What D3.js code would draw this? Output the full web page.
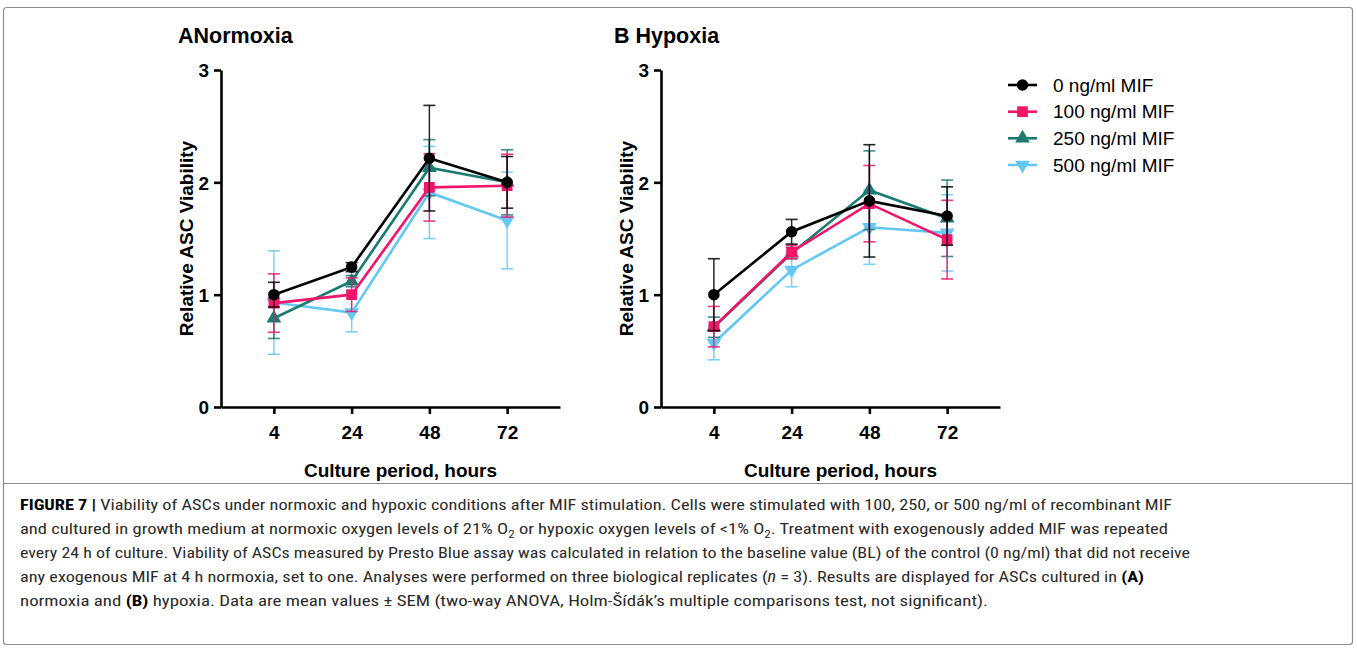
<!DOCTYPE html>
<html><head><meta charset="utf-8">
<script src="https://cdn.jsdelivr.net/npm/d3@7"></script>
<style>body{margin:0;background:#fff}svg{display:block}</style>
</head><body><svg id="c" width="1357" height="652"></svg>
<script>
// ---------- data ----------
const categories = ["4", "24", "48", "72"];
const yTicks = [0, 1, 2, 3];
const seriesNames = ["0 ng/ml MIF", "100 ng/ml MIF", "250 ng/ml MIF", "500 ng/ml MIF"];

const normoxiaMean0   = [1.00, 1.245, 2.215, 2.00];
const normoxiaSem0    = [0.11, 0.04, 0.47, 0.23];
const normoxiaMean100 = [0.925, 1.00, 1.955, 1.97];
const normoxiaSem100  = [0.26, 0.15, 0.30, 0.28];
const normoxiaMean250 = [0.79, 1.12, 2.13, 2.00];
const normoxiaSem250  = [0.18, 0.05, 0.25, 0.29];
const normoxiaMean500 = [0.93, 0.84, 1.91, 1.66];
const normoxiaSem500  = [0.46, 0.17, 0.41, 0.43];

const hypoxiaMean0   = [1.00, 1.56, 1.835, 1.70];
const hypoxiaSem0    = [0.32, 0.11, 0.50, 0.26];
const hypoxiaMean100 = [0.715, 1.38, 1.81, 1.49];
const hypoxiaSem100  = [0.18, 0.06, 0.34, 0.35];
const hypoxiaMean250 = [0.71, 1.37, 1.93, 1.68];
const hypoxiaSem250  = [0.09, 0.05, 0.35, 0.34];
const hypoxiaMean500 = [0.57, 1.22, 1.60, 1.55];
const hypoxiaSem500  = [0.15, 0.15, 0.33, 0.34];

// ---------- styles ----------
const colors = ["#000000", "#f2156b", "#1a7a74", "#64c8f4"];
const symbols = [d3.symbolCircle, d3.symbolSquare, d3.symbolTriangle, "down"];
const FONT = "'Liberation Sans', Arial, Helvetica, sans-serif";

const svg = d3.select("#c");

// frame
svg.append("rect").attr("x", 3.5).attr("y", 7.5).attr("width", 1349).attr("height", 637)
  .attr("rx", 3).attr("fill", "none").attr("stroke", "#8c8c8c").attr("stroke-width", 1.2);
svg.append("line").attr("x1", 3.5).attr("x2", 1352.5).attr("y1", 483.5).attr("y2", 483.5)
  .attr("stroke", "#8c8c8c").attr("stroke-width", 1);

function markerPath(i, size) {
  if (symbols[i] === "down") return d3.symbol().type(d3.symbolTriangle).size(size)();
  return d3.symbol().type(symbols[i]).size(size)();
}
const markerSizes = [105, 115, 95, 95];

function panel(opts) {
  const { left, right, top, bottom, title, titleX, means, sems } = opts;
  const g = svg.append("g");
  const x = d3.scalePoint().domain(categories).range([left, right]).padding(0.68);
  const y = d3.scaleLinear().domain([0, 3]).range([bottom, top]);

  const yAxis = g.append("g").attr("transform", `translate(${left},0)`)
    .call(d3.axisLeft(y).tickValues(yTicks).tickSize(7).tickSizeOuter(0).tickPadding(5).tickFormat(d3.format("d")));
  const xAxis = g.append("g").attr("transform", `translate(0,${bottom})`)
    .call(d3.axisBottom(x).tickSize(7).tickSizeOuter(0).tickPadding(8));
  [yAxis, xAxis].forEach(a => {
    a.selectAll("path").attr("stroke", "#000").attr("stroke-width", 2.6);
    a.selectAll("line").attr("stroke", "#000").attr("stroke-width", 2.6);
    a.selectAll("text").attr("fill", "#000").style("font-family", FONT)
      .style("font-size", "19px").style("font-weight", "bold");
  });
  xAxis.selectAll("text").attr("dy", "0.9em");
  yAxis.selectAll("text").attr("dy", "0.36em");

  g.append("text").attr("transform", `translate(${left - 28},${(top + bottom) / 2}) rotate(-90)`)
    .attr("text-anchor", "middle").style("font-family", FONT).style("font-size", "19px")
    .style("font-weight", "bold").text("Relative ASC Viability");
  g.append("text").attr("x", (left + right) / 2 + 10).attr("y", 477).attr("text-anchor", "middle")
    .style("font-family", FONT).style("font-size", "19px").style("font-weight", "bold")
    .text("Culture period, hours");
  g.append("text").attr("x", titleX).attr("y", 43).style("font-family", FONT)
    .style("font-size", "21.5px").style("font-weight", "bold").text(title);

  for (let s = 3; s >= 0; s--) {
    const m = means[s], e = sems[s];
    const pts = categories.map((c, i) => ({ c, v: m[i], e: e[i] }));
    const sg = g.append("g");
    const eb = sg.selectAll(".eb").data(pts).enter().append("g");
    eb.append("line").attr("x1", d => x(d.c)).attr("x2", d => x(d.c))
      .attr("y1", d => y(d.v - d.e)).attr("y2", d => y(d.v + d.e))
      .attr("stroke", colors[s]).attr("stroke-width", 1.5).attr("stroke-opacity", 0.85);
    [1, -1].forEach(sign => {
      eb.append("line").attr("x1", d => x(d.c) - 6).attr("x2", d => x(d.c) + 6)
        .attr("y1", d => y(d.v + sign * d.e)).attr("y2", d => y(d.v + sign * d.e))
        .attr("stroke", colors[s]).attr("stroke-width", 1.6).attr("stroke-opacity", 0.85);
    });
    sg.append("path").datum(pts)
      .attr("d", d3.line().x(d => x(d.c)).y(d => y(d.v)))
      .attr("fill", "none").attr("stroke", colors[s]).attr("stroke-width", 2.6);
    sg.selectAll(".mk").data(pts).enter().append("path")
      .attr("d", markerPath(s, markerSizes[s]))
      .attr("transform", d => `translate(${x(d.c)},${y(d.v)})` + (symbols[s] === "down" ? " rotate(180)" : ""))
      .attr("fill", colors[s]);
  }
}

panel({ left: 221, right: 560, top: 70, bottom: 407, title: "ANormoxia", titleX: 178,
  means: [normoxiaMean0, normoxiaMean100, normoxiaMean250, normoxiaMean500],
  sems: [normoxiaSem0, normoxiaSem100, normoxiaSem250, normoxiaSem500] });
panel({ left: 661, right: 1000, top: 70, bottom: 407, title: "B Hypoxia", titleX: 614,
  means: [hypoxiaMean0, hypoxiaMean100, hypoxiaMean250, hypoxiaMean500],
  sems: [hypoxiaSem0, hypoxiaSem100, hypoxiaSem250, hypoxiaSem500] });

// legend
const legendY = [85, 111.7, 138.3, 165];
const lg = svg.append("g");
seriesNames.forEach((name, i) => {
  lg.append("line").attr("x1", 1008).attr("x2", 1037).attr("y1", legendY[i]).attr("y2", legendY[i])
    .attr("stroke", colors[i]).attr("stroke-width", 2.6);
  lg.append("path").attr("d", markerPath(i, markerSizes[i]))
    .attr("transform", `translate(1022.5,${legendY[i]})` + (symbols[i] === "down" ? " rotate(180)" : ""))
    .attr("fill", colors[i]);
  lg.append("text").attr("x", 1053).attr("y", legendY[i]).attr("dy", "0.35em")
    .style("font-family", FONT).style("font-size", "19px").attr("fill", "#000").text(name);
});

// caption
const captionLines = [
  [["FIGURE 7 |", "b"], [" Viability of ASCs under normoxic and hypoxic conditions after MIF stimulation. Cells were stimulated with 100, 250, or 500 ng/ml of recombinant MIF", ""]],
  [["and cultured in growth medium at normoxic oxygen levels of 21% O", ""], ["2", "sub"], [" or hypoxic oxygen levels of <1% O", ""], ["2", "sub"], [". Treatment with exogenously added MIF was repeated", ""]],
  [["every 24 h of culture. Viability of ASCs measured by Presto Blue assay was calculated in relation to the baseline value (BL) of the control (0 ng/ml) that did not receive", ""]],
  [["any exogenous MIF at 4 h normoxia, set to one. Analyses were performed on three biological replicates (", ""], ["n", "i"], [" = 3). Results are displayed for ASCs cultured in ", ""], ["(A)", "b"]],
  [["normoxia and ", ""], ["(B)", "b"], [" hypoxia. Data are mean values \u00b1 SEM (two-way ANOVA, Holm-\u0160\u00edd\u00e1k\u2019s multiple comparisons test, not significant).", ""]]
];
const captionEnds = [1172, 1168, 1190, 1144, 988];
const captionBase = [510, 534, 558, 582, 606];
const CAPFONT = "'Liberation Sans Narrow', 'Roboto Condensed', 'Liberation Sans', Arial, sans-serif";
captionLines.forEach((segs, li) => {
  const t = svg.append("text").attr("x", 20).attr("y", captionBase[li])
    .style("font-family", CAPFONT).style("font-size", "15.5px").attr("fill", "#2b2b2b")
    .attr("textLength", captionEnds[li] - 20).attr("lengthAdjust", "spacingAndGlyphs");
  let shifted = false;
  segs.forEach(([txt, st]) => {
    const ts = t.append("tspan").text(txt);
    if (st === "b") ts.style("font-weight", "bold").attr("fill", "#000");
    if (st === "i") ts.style("font-style", "italic");
    if (st === "sub") { ts.attr("dy", 4).style("font-size", "11px"); shifted = true; }
    else if (shifted) { ts.attr("dy", -4); shifted = false; }
  });
});
</script>
</body></html>
